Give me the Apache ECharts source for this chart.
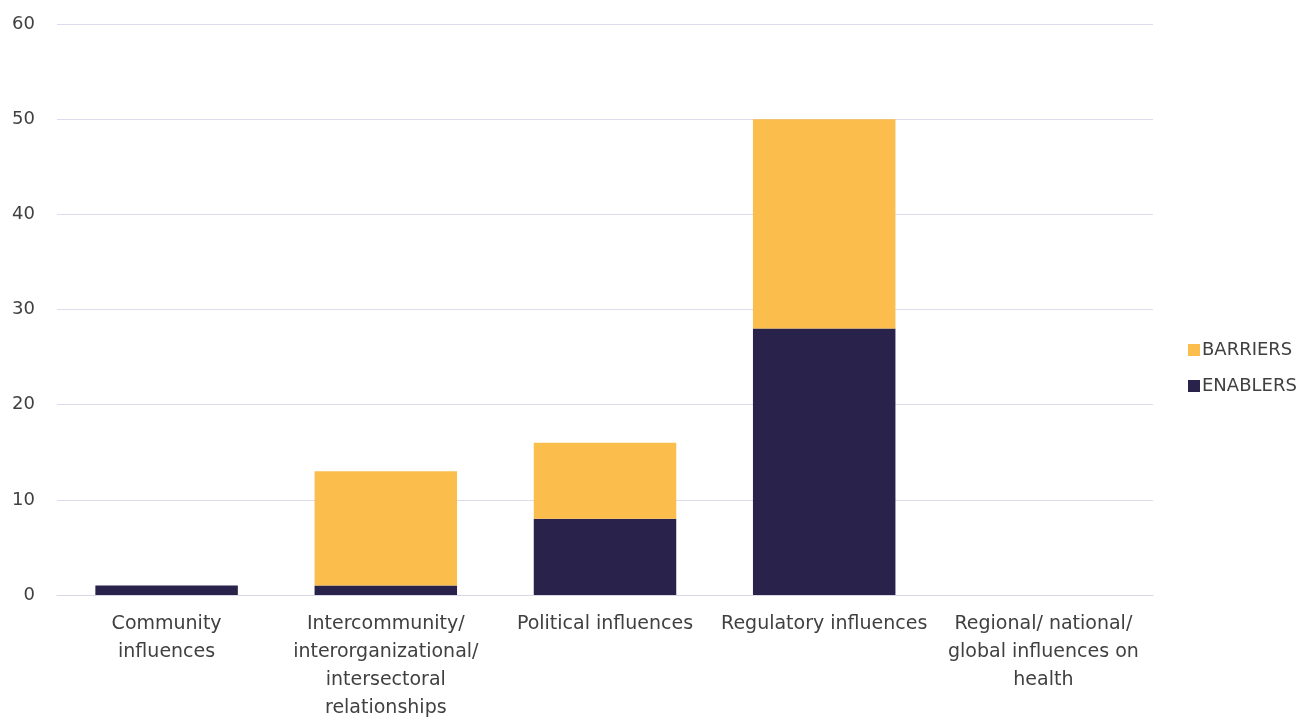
<!DOCTYPE html>
<html>
<head>
<meta charset="utf-8">
<script src="https://cdn.jsdelivr.net/npm/echarts@6/dist/echarts.min.js"></script>
<style>
  html, body { margin: 0; padding: 0; background: #fff; }
  #chart { width: 1311px; height: 722px; }
</style>
</head>
<body>
<div id="chart"></div>
<script>
// Influence levels along the horizontal axis
const categories = [
  'Community\ninfluences',
  'Intercommunity/\ninterorganizational/\nintersectoral\nrelationships',
  'Political influences',
  'Regulatory influences',
  'Regional/ national/\nglobal influences on\nhealth'
];
// Counts per influence level
const enablers = [1, 1, 8, 28, 0];
const barriers = [0, 12, 8, 22, 0];
const yTicks = { min: 0, max: 60, interval: 10 };

const textColor = '#404040';
const chart = echarts.init(document.getElementById('chart'));
chart.setOption({
  animation: false,
  textStyle: { fontFamily: 'DejaVu Sans, sans-serif' },
  grid: { left: 57, right: 158, top: 24, bottom: 123, containLabel: false },
  legend: {
    orient: 'vertical',
    left: 1183,
    top: 336,
    itemWidth: 12,
    itemHeight: 12,
    itemGap: 18,
    icon: 'rect',
    data: ['BARRIERS', 'ENABLERS'],
    textStyle: { fontSize: 18, color: textColor, padding: [0, 0, 0, -3] }
  },
  xAxis: {
    type: 'category',
    data: categories,
    axisLine: { lineStyle: { color: '#d9d7e6', width: 1 } },
    axisTick: { show: false },
    axisLabel: {
      interval: 0,
      fontSize: 19,
      color: textColor,
      lineHeight: 28,
      margin: 15
    }
  },
  yAxis: {
    type: 'value',
    min: yTicks.min,
    max: yTicks.max,
    interval: yTicks.interval,
    axisLine: { show: false },
    axisTick: { show: false },
    axisLabel: { fontSize: 18, color: textColor, margin: 22 },
    splitLine: { lineStyle: { color: '#dedcec', width: 1 } }
  },
  series: [
    {
      name: 'ENABLERS',
      type: 'bar',
      stack: 'total',
      data: enablers,
      barWidth: '65%',
      itemStyle: { color: '#29224a' }
    },
    {
      name: 'BARRIERS',
      type: 'bar',
      stack: 'total',
      data: barriers,
      barWidth: '65%',
      itemStyle: { color: '#fbbd4b' }
    }
  ]
});
</script>
</body>
</html>
